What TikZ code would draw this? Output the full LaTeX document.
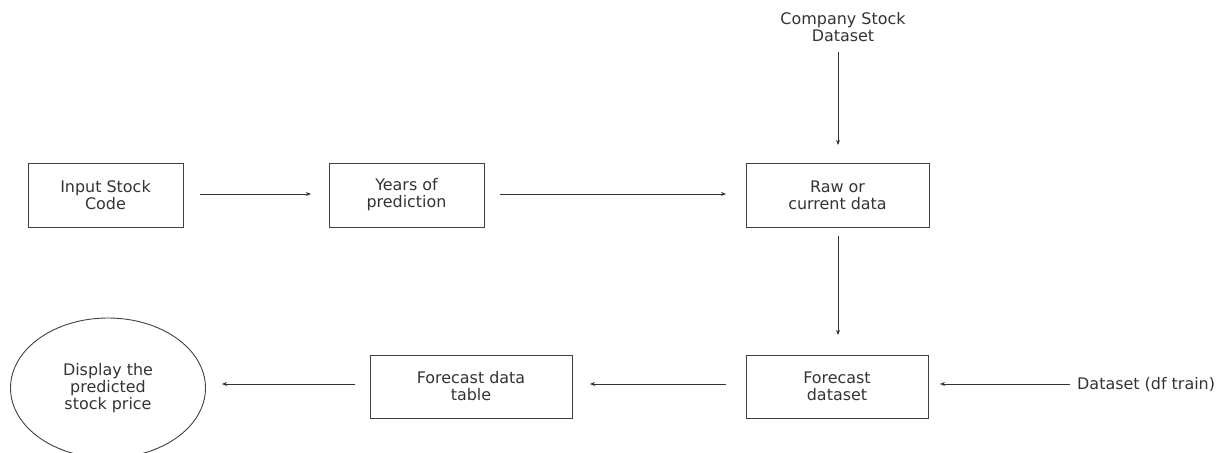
\documentclass[tikz,border=0pt]{standalone}
\usepackage{fontspec}
\setmainfont{DejaVu Sans}
\usetikzlibrary{shapes.geometric,arrows.meta}
\begin{document}
\begin{tikzpicture}[x=1bp,y=-1bp,
  every node/.style={font=\fontsize{16}{17}\selectfont, text=black!80, align=center},
  box/.style={draw=black!75, line width=0.9pt, minimum width=#1, minimum height=64bp, inner sep=0pt},
  box/.default=155bp,
  conn/.style={draw=black!80, line width=0.8pt, -{Stealth[length=5pt,width=4pt]}},
  lbl/.style={inner sep=0pt}]
\useasboundingbox (0,0) rectangle (1227,453);
\clip (0,0) rectangle (1227,453);
\node[box] (inp) at (105.5,195) {Input Stock\\Code};
\node[box] (yrs) at (406.5,195) {Years of\\prediction};
\node[box=183bp] (raw) at (837.5,195) {Raw or\\current data};
\node[box=182bp, minimum height=63bp] (fds) at (837,386.5) {Forecast\\dataset};
\node[box=202bp, minimum height=63bp] (fdt) at (471,386.5) {Forecast data\\table};
\node[ellipse, draw=black!75, line width=0.9pt, minimum width=195bp, minimum height=140bp, inner sep=0pt] (disp) at (108,388) {Display the\\predicted\\stock price};
\node[lbl] (csd) at (843,27) {Company Stock\\Dataset};
\node[lbl, anchor=west] (dft) at (1077,384) {Dataset (df train)};
\coordinate (c1) at (838,52);
\coordinate (c2) at (838,145);
\coordinate (d1) at (1070,384);
\draw[conn] (200,194) -- (311,194);
\draw[conn] (500,194) -- (726,194);
\draw[conn] (c1) -- (c2);
\draw[conn] (838,236) -- (838,335);
\draw[conn] (d1) -- (940,384);
\draw[conn] (726,384) -- (590,384);
\draw[conn] (355,384) -- (222,384);
\end{tikzpicture}
\end{document}
